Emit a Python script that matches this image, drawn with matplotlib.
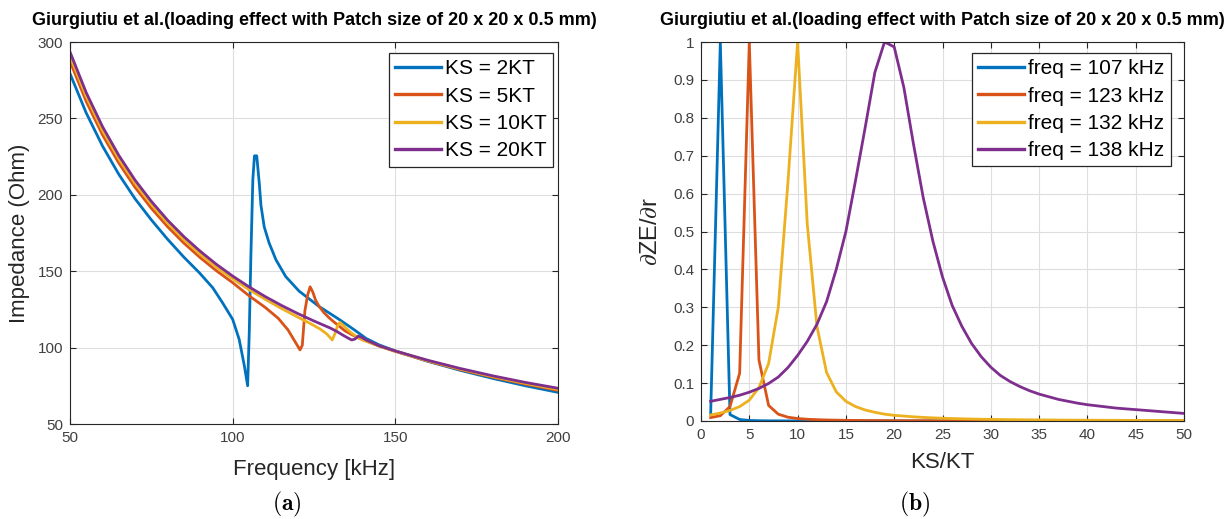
import matplotlib
matplotlib.use("Agg")
import matplotlib.pyplot as plt

plt.rcParams['font.family'] = ['Liberation Sans', 'DejaVu Sans']
plt.rcParams['mathtext.fontset'] = 'cm'

# --- (a) impedance vs frequency for several KS values ---
freq_ks2 = [50, 55, 60, 65, 70, 75, 80, 85, 89.8, 93.9, 96.9, 100, 102, 103.6, 104.6,
            105.1, 105.6, 106.2, 106.7, 107.4, 108.2, 108.7, 109.7, 111.2, 113.3, 116.3,
            120.4, 126.5, 132.7, 137.8, 141, 145, 150, 160, 170, 180, 190, 200]
imp_ks2 = [279.3, 253.5, 231.9, 213.4, 197.4, 183.6, 170.9, 159.2, 148.9, 139.1, 129.3,
           118.5, 105.4, 88, 75, 110, 160, 210, 225.5, 225.5, 207, 193, 179, 168.5, 157.5,
           146.5, 137, 127, 118.5, 111, 106, 101.8, 97.8, 91.0, 85.1, 79.8, 75.0, 70.7]

freq_ks5 = [50, 55, 60, 65, 70, 75, 80, 85, 90, 95, 100, 105, 110, 114, 117, 119, 120.7,
            121.4, 122.2, 123.0, 123.8, 124.6, 125.5, 126.5, 128, 129.6, 131, 132.7, 134.5,
            136.7, 139, 142, 145, 150, 160, 170, 180, 190, 200]
imp_ks5 = [287.4, 261.0, 239.2, 220.8, 204.9, 191.2, 179.1, 168.4, 158.9, 150.3, 142.5,
           134.0, 126.3, 119.2, 111.6, 104.5, 98.5, 101.5, 124, 134, 139.8, 136.5, 131.0,
           127.2, 123.0, 119.6, 117.0, 114.1, 111.0, 108.4, 106.0, 103.6, 101.0, 97.5, 91.2,
           85.6, 80.6, 76.1, 72.0]

freq_ks10 = [50, 55, 60, 65, 70, 75, 80, 85, 90, 95, 100, 105, 110, 115, 120, 124, 127,
             129, 130.6, 131.5, 132.2, 133, 134, 135, 136.5, 138, 140, 145, 150, 160, 170,
             180, 190, 200]
imp_ks10 = [290.6, 264.3, 242.0, 223.5, 207.4, 193.7, 181.5, 170.6, 161.2, 152.7, 145.0,
            138.0, 131.6, 125.6, 120.0, 115.6, 112.0, 108.8, 105.0, 109.5, 114, 116.5, 114.5,
            112.3, 109.6, 107.3, 104.9, 101.0, 97.6, 91.4, 85.9, 81.0, 76.6, 72.6]

freq_ks20 = [50, 55, 60, 65, 70, 75, 80, 85, 90, 95, 100, 105, 110, 115, 120, 125, 130,
             132, 134, 135.5, 136.6, 137.6, 138.6, 139.6, 141, 145, 150, 160, 170, 180, 190, 200]
imp_ks20 = [293.5, 266.8, 244.6, 225.8, 209.6, 195.7, 183.4, 172.6, 163.1, 154.5, 146.8,
            139.8, 133.4, 127.6, 122.3, 117.4, 112.8, 110.6, 108.0, 106.2, 105.0, 105.6,
            107.5, 106.8, 105.0, 101.2, 97.8, 91.7, 86.3, 81.5, 77.2, 73.4]

# --- (b) normalised sensitivity vs stiffness ratio ---
ks_ratio = list(range(1, 51))
sens_107 = [0.018, 1.0, 0.017, 0.004, 0.0015, 0.0008, 0.0005, 0.0004, 0.0003, 0.0003,
            0.0002, 0.0002, 0.0002, 0.0002, 0.0002, 0.0002, 0.0002, 0.0002, 0.0002, 0.0002,
            0.0001, 0.0001, 0.0001, 0.0001, 0.0001, 0.0001, 0.0001, 0.0001, 0.0001, 0.0001,
            0.0001, 0.0001, 0.0001, 0.0001, 0.0001, 0.0001, 0.0001, 0.0001, 0.0001, 0.0001,
            0.0001, 0.0001, 0.0001, 0.0001, 0.0001, 0.0001, 0.0001, 0.0001, 0.0001, 0.0001]
sens_123 = [0.009, 0.014, 0.038, 0.126, 1.0, 0.161, 0.041, 0.018, 0.010, 0.0065,
            0.0046, 0.0035, 0.0027, 0.0022, 0.0018, 0.0015, 0.0013, 0.0011, 0.0010, 0.0009,
            0.0008, 0.0008, 0.0007, 0.0007, 0.0006, 0.0006, 0.0006, 0.0005, 0.0005, 0.0005,
            0.0005, 0.0004, 0.0004, 0.0004, 0.0004, 0.0004, 0.0004, 0.0004, 0.0003, 0.0003,
            0.0003, 0.0003, 0.0003, 0.0003, 0.0003, 0.0003, 0.0003, 0.0003, 0.0003, 0.0003]
sens_132 = [0.016, 0.021, 0.028, 0.038, 0.055, 0.088, 0.152, 0.30, 0.63, 1.0,
            0.52, 0.25, 0.128, 0.077, 0.052, 0.038, 0.029, 0.023, 0.018, 0.015,
            0.013, 0.011, 0.0095, 0.0083, 0.0073, 0.0065, 0.0058, 0.0052, 0.0047, 0.0043,
            0.0039, 0.0036, 0.0033, 0.0031, 0.0029, 0.0027, 0.0025, 0.0023, 0.0022, 0.0021,
            0.0020, 0.0019, 0.0018, 0.0017, 0.0016, 0.0015, 0.0015, 0.0014, 0.0013, 0.0013]
sens_138 = [0.052, 0.057, 0.062, 0.068, 0.076, 0.086, 0.099, 0.116, 0.141, 0.173,
            0.21, 0.255, 0.315, 0.40, 0.50, 0.635, 0.775, 0.92, 1.0, 0.987,
            0.88, 0.73, 0.59, 0.475, 0.38, 0.305, 0.25, 0.205, 0.17, 0.142,
            0.12, 0.104, 0.091, 0.080, 0.071, 0.064, 0.057, 0.052, 0.047, 0.043,
            0.040, 0.037, 0.034, 0.032, 0.030, 0.028, 0.026, 0.024, 0.022, 0.020]

colors = ['#0072BD', '#D95319', '#EDB120', '#7E2F8E']
title = "Giurgiutiu et al.(loading effect with Patch size of 20 x 20 x 0.5 mm)"
ink = '#262626'

fig = plt.figure(figsize=(12.31, 5.19), dpi=100)
ax1 = fig.add_axes([70 / 1231, 95 / 519, 488 / 1231, 382 / 519])
ax2 = fig.add_axes([701 / 1231, 98 / 519, 483 / 1231, 379 / 519])


def style_axes(ax):
    ax.set_axisbelow(True)
    ax.grid(True, color='#dedede', linewidth=0.8)
    for sp in ax.spines.values():
        sp.set_color(ink)
        sp.set_linewidth(0.8)
    ax.tick_params(direction='in', top=True, right=True, length=4, width=0.8,
                   color=ink, labelsize=11, labelcolor='#404040', pad=5)


def add_legend(ax, anchor):
    leg = ax.legend(loc='upper right', bbox_to_anchor=anchor, borderaxespad=0,
                    fontsize=15, handlelength=2.2, handletextpad=0.2, labelspacing=0.4,
                    borderpad=0.3, fancybox=False, framealpha=1, edgecolor=ink)
    leg.get_frame().set_linewidth(0.9)
    for line in leg.get_lines():
        line.set_linewidth(2.4)
    return leg


# (a)
ax1.plot(freq_ks2, imp_ks2, color=colors[0], lw=2, label='KS = 2KT')
ax1.plot(freq_ks5, imp_ks5, color=colors[1], lw=2, label='KS = 5KT')
ax1.plot(freq_ks10, imp_ks10, color=colors[2], lw=2, label='KS = 10KT')
ax1.plot(freq_ks20, imp_ks20, color=colors[3], lw=2, label='KS = 20KT')
ax1.set_xlim(50, 200)
ax1.set_ylim(50, 300)
ax1.set_xticks([50, 100, 150, 200])
ax1.set_yticks([50, 100, 150, 200, 250, 300])
style_axes(ax1)
ax1.set_xlabel('Frequency [kHz]', fontsize=16, color=ink)
ax1.set_ylabel('Impedance (Ohm)', fontsize=16, color=ink)
ax1.xaxis.set_label_coords(0.5, -0.092)
ax1.yaxis.set_label_coords(-0.082, 0.5)
ax1.set_title(title, fontsize=13, fontweight='bold', pad=12)
add_legend(ax1, (0.99, 0.971))

# (b)
ax2.plot(ks_ratio, sens_107, color=colors[0], lw=2, label='freq = 107 kHz')
ax2.plot(ks_ratio, sens_123, color=colors[1], lw=2, label='freq = 123 kHz')
ax2.plot(ks_ratio, sens_132, color=colors[2], lw=2, label='freq = 132 kHz')
ax2.plot(ks_ratio, sens_138, color=colors[3], lw=2, label='freq = 138 kHz')
ax2.set_xlim(0, 50)
ax2.set_ylim(0, 1)
ax2.set_xticks(range(0, 51, 5))
ax2.set_yticks([i / 10 for i in range(11)])
ax2.set_yticklabels(['0', '0.1', '0.2', '0.3', '0.4', '0.5', '0.6', '0.7', '0.8', '0.9', '1'])
style_axes(ax2)
ax2.set_xlabel('KS/KT', fontsize=16, color=ink)
ax2.set_ylabel(r'$\partial$ZE/$\partial$r', fontsize=17, color=ink)
ax2.xaxis.set_label_coords(0.5, -0.082)
ax2.yaxis.set_label_coords(-0.08, 0.5)
ax2.set_title(title, fontsize=13, fontweight='bold', pad=12)
add_legend(ax2, (0.973, 0.971))

# panel letters
fig.text(287 / 1231, 1 - 504 / 519, r'$(\mathbf{a})$', fontsize=17, ha='center', va='center')
fig.text(915 / 1231, 1 - 504 / 519, r'$(\mathbf{b})$', fontsize=17, ha='center', va='center')

fig.savefig('out.png', dpi=100)
